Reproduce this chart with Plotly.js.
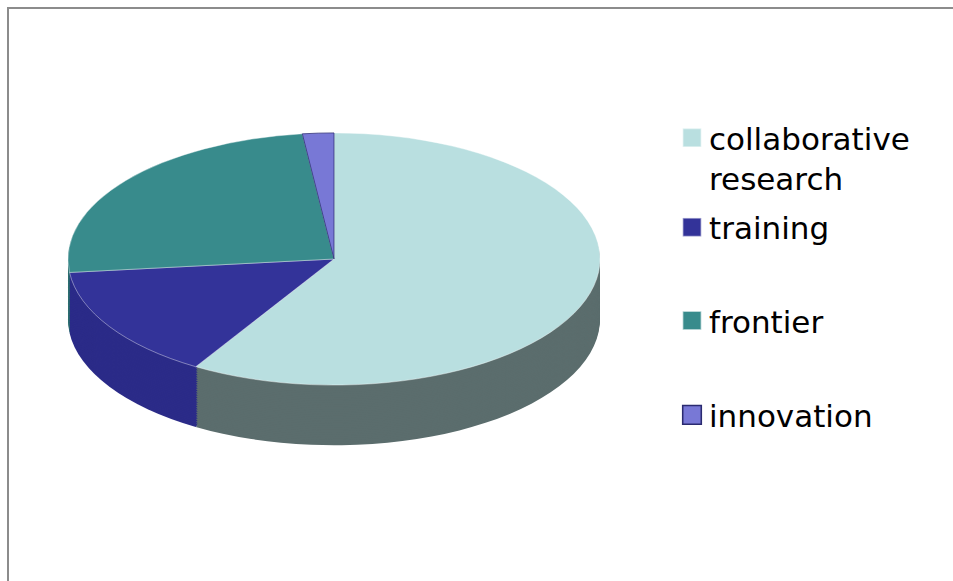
<!DOCTYPE html>
<html>
<head>
<meta charset="utf-8">
<script src="https://cdn.plot.ly/plotly-3.0.1.min.js"></script>
<style>
html,body{margin:0;padding:0;background:#ffffff;overflow:hidden}
#chart{width:953px;height:581px}
</style>
</head>
<body>
<div id="chart"></div>
<script>
// ---- data ----
const categories = ["collaborative research", "training", "frontier", "innovation"];
const legendLabels = ["collaborative<br>research", "training", "frontier", "innovation"];
const shares = [58.7, 14.6, 24.8, 1.9];

// ---- styles ----
const topColors  = ["#b9dfe0", "#333399", "#388b8c", "#7878d6"];
const sideColors = ["#5b6d6d", "#2b2b88", "#2d6f70", "#5f5fab"];
const lineColors = ["rgba(255,255,255,0.55)", "rgba(255,255,255,0.55)", "rgba(255,255,255,0.55)", "#2a2a70"];

const W = 953, H = 581;
const CX = 334, R = 266;          // pie centre x and radius (pixels)
const CY = 259;                   // centre of the tilted top face
const SQ = 0.474;                 // vertical squash of the tilt
const DEPTH = 127;                // thickness before squash
const N = 34;                     // layers making the side wall

const dom = {x: [(CX - R) / W, (CX + R) / W], y: [0, 1]};

const traces = [];
for (let k = N; k >= 1; k--) {
  traces.push({
    type: "pie", labels: legendLabels, values: shares, customdata: categories,
    sort: false, direction: "clockwise", rotation: 0,
    textinfo: "none", hoverinfo: "skip", showlegend: false,
    marker: {colors: sideColors, line: {width: 0}},
    domain: dom
  });
}
traces.push({
  type: "pie", labels: legendLabels, values: shares, customdata: categories,
  sort: false, direction: "clockwise", rotation: 0,
  textinfo: "none", hoverinfo: "label+percent", showlegend: true,
  marker: {colors: topColors, line: {color: lineColors, width: 1}},
  domain: dom
});

const layout = {
  width: W, height: H,
  margin: {l: 0, r: 0, t: 0, b: 0},
  paper_bgcolor: "#ffffff",
  showlegend: true,
  legend: {
    x: 669 / W, xanchor: "left",
    y: 1 - 111 / H, yanchor: "top",
    font: {family: "DejaVu Sans, Verdana, sans-serif", size: 31, color: "#000000"},
    bgcolor: "rgba(0,0,0,0)", valign: "top", traceorder: "normal"
  },
  shapes: [{
    type: "rect", xref: "paper", yref: "paper",
    x0: 8 / W, x1: 1.05, y0: -0.05, y1: 1 - 8 / H,
    line: {color: "#8c8c8c", width: 2}, fillcolor: "rgba(0,0,0,0)"
  }]
};

Plotly.newPlot("chart", traces, layout, {staticPlot: true, displayModeBar: false}).then(gd => {
  const layer = gd.querySelector(".pielayer");
  const cy0 = H / 2;
  layer.setAttribute("transform",
    "translate(0," + CY + ") scale(1," + SQ + ") translate(0," + (-cy0) + ")");
  const groups = layer.querySelectorAll("g.trace");
  groups.forEach((g, i) => {
    if (i < N) {
      const off = DEPTH * (N - i) / N;
      g.setAttribute("transform", "translate(0," + off + ") " + (g.getAttribute("transform") || ""));
    }
  });
  // legend: bigger swatches and Excel-like spacing
  gd.querySelectorAll(".legend [clip-path]").forEach(e => e.removeAttribute("clip-path"));
  gd.querySelectorAll(".legendpie").forEach(p => {
    p.setAttribute("transform", "translate(23,0) scale(1.55)");
  });
  const extra = [0, 6, 56, 107];
  gd.querySelectorAll(".legend g.traces").forEach((g, i) => {
    const t = g.getAttribute("transform") || "";
    const m = t.match(/translate\(\s*([-\d.e]+)[ ,]+([-\d.e]+)\s*\)/);
    if (m) {
      g.setAttribute("transform", "translate(" + m[1] + "," + (parseFloat(m[2]) + (extra[i] || 0)) + ")");
    }
  });
});
</script>
</body>
</html>
